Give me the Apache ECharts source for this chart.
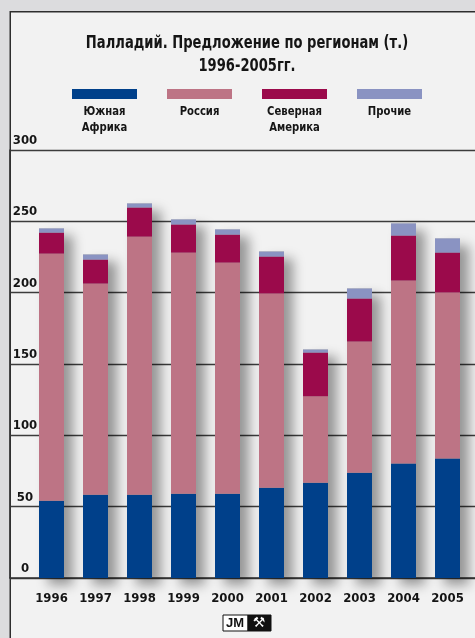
<!DOCTYPE html>
<html>
<head>
<meta charset="utf-8">
<script src="https://cdn.jsdelivr.net/npm/echarts@6/dist/echarts.min.js"></script>
<style>
  html, body { margin: 0; padding: 0; background: #dcdcde; }
  #chart { width: 475px; height: 638px; }
</style>
</head>
<body>
<div id="chart"></div>
<script>
// Palladium supply by region, tonnes, 1996-2005
const years = ['1996', '1997', '1998', '1999', '2000', '2001', '2002', '2003', '2004', '2005'];
const southAfrica = [54.2, 58.4, 58.4, 59.1, 59.1, 63.3, 66.8, 73.8, 80.2, 83.7];
const russia      = [173.2, 148.0, 180.9, 169.0, 162.0, 136.1, 60.6, 91.9, 128.3, 116.4];
const northAmerica = [14.7, 16.8, 20.4, 19.7, 19.6, 25.9, 30.6, 30.2, 31.5, 28.0];
const others      = [2.9, 3.5, 2.8, 3.5, 3.6, 3.5, 2.1, 7.0, 8.5, 9.9];
const seriesNames = ['Южная\nАфрика', 'Россия', 'Северная\nАмерика', 'Прочие'];
const seriesColors = ['#00408a', '#bd7485', '#9b0a4b', '#8a93c2'];
const yTicks = { min: 0, max: 300, interval: 50 };
const titleText = 'Палладий. Предложение по регионам (т.)\n1996-2005гг.';

const FONT = '"DejaVu Sans Condensed", "Liberation Sans Narrow", "Liberation Sans", sans-serif';
const seriesData = [southAfrica, russia, northAmerica, others];
const totals = years.map((_, i) => seriesData.reduce((s, arr) => s + arr[i], 0));

const chart = echarts.init(document.getElementById('chart'), null, { renderer: 'canvas' });

// legend swatches with captions underneath
const legendGraphics = [];
seriesNames.forEach((name, i) => {
  legendGraphics.push({
    type: 'rect', left: 72 + 95 * i, top: 89, z: 10,
    shape: { width: 65, height: 10 },
    style: { fill: seriesColors[i] }
  });
  legendGraphics.push({
    type: 'text', x: 104.5 + 95 * i, y: 104, z: 10, scaleX: 0.86,
    style: {
      text: name, fill: '#151515', font: 'bold 13px ' + FONT,
      textAlign: 'center', textVerticalAlign: 'top', lineHeight: 16
    }
  });
});

const option = {
  backgroundColor: '#dcdcde',
  animation: false,
  grid: [
    { left: 10, right: -10, top: 150, bottom: 60 },
    { left: 29.5, width: 440, top: 150, bottom: 60 }
  ],
  xAxis: [
    { gridIndex: 0, type: 'value', min: 0, max: 1, show: true,
      axisLine: { show: true, onZero: false, lineStyle: { color: '#333', width: 1.5 } },
      axisTick: { show: false }, axisLabel: { show: false }, splitLine: { show: false } },
    { gridIndex: 1, type: 'category', data: years,
      axisLine: { show: false }, axisTick: { show: false },
      axisLabel: { interval: 0, margin: 14, fontFamily: FONT, fontWeight: 'bold', fontSize: 13, color: '#151515' } },
    { gridIndex: 1, type: 'category', data: years, show: false }
  ],
  yAxis: [
    { gridIndex: 0, type: 'value', min: yTicks.min, max: yTicks.max, interval: yTicks.interval,
      axisLine: { show: true, lineStyle: { color: '#333', width: 1.5 } },
      axisTick: { show: false },
      splitLine: { show: true, lineStyle: { color: '#3c3c3c', width: 1.3 } },
      axisLabel: { inside: true, margin: 15, align: 'center', verticalAlign: 'bottom',
        padding: [0, 0, 3, 0], fontFamily: FONT, fontWeight: 'bold', fontSize: 13, color: '#151515' } },
    { gridIndex: 1, type: 'value', min: yTicks.min, max: yTicks.max, interval: yTicks.interval, show: false }
  ],
  series: [
    // soft drop shadow behind each full column
    { type: 'bar', xAxisIndex: 2, yAxisIndex: 1, data: totals, barWidth: 25, z: 1, silent: true,
      itemStyle: { color: '#a8a8a8', shadowColor: 'rgba(0,0,0,0.38)', shadowBlur: 12, shadowOffsetX: 9, shadowOffsetY: 7 } }
  ].concat(seriesData.map((arr, i) => ({
    type: 'bar', name: seriesNames[i], stack: 'supply', xAxisIndex: 1, yAxisIndex: 1,
    data: arr, barWidth: 25, z: 3,
    itemStyle: { color: seriesColors[i] }
  }))),
  graphic: [
    // framed panel
    { type: 'rect', left: 9.5, top: 11, z: -10, silent: true,
      shape: { width: 480, height: 640 },
      style: { fill: '#f2f2f2', stroke: '#2e2e2e', lineWidth: 1.5 } },
    // title, condensed
    { type: 'text', x: 247, y: 32, z: 10, scaleX: 0.81,
      style: { text: titleText, fill: '#151515', font: 'bold 18px ' + FONT,
        textAlign: 'center', textVerticalAlign: 'top', lineHeight: 23 } },
    // JM mark
    { type: 'rect', left: 222.5, top: 614.5, z: 10, shape: { width: 25, height: 16 },
      style: { fill: '#ffffff', stroke: '#111', lineWidth: 1 } },
    { type: 'text', x: 235, y: 623, z: 11,
      style: { text: 'JM', fill: '#111', font: 'bold 13px "Liberation Sans", sans-serif',
        textAlign: 'center', textVerticalAlign: 'middle' } },
    { type: 'rect', left: 247.5, top: 614.5, z: 10, shape: { width: 23, height: 16 },
      style: { fill: '#111', stroke: '#111', lineWidth: 1 } },
    { type: 'text', x: 259, y: 623, z: 11,
      style: { text: '⚒', fill: '#ffffff', font: 'bold 14px "DejaVu Sans", sans-serif',
        textAlign: 'center', textVerticalAlign: 'middle' } }
  ].concat(legendGraphics)
};

chart.setOption(option);
</script>
</body>
</html>
